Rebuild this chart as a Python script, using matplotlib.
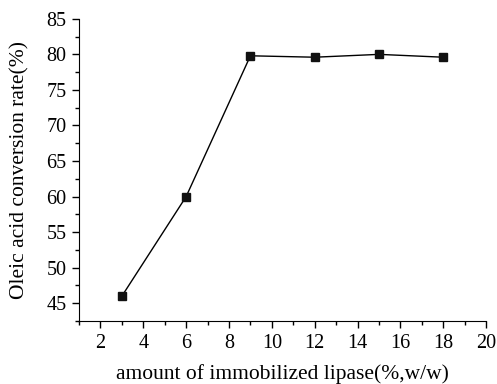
import matplotlib
matplotlib.use('Agg')
import matplotlib.pyplot as plt
from matplotlib.ticker import MultipleLocator

# 데이터
lipase = [3, 6, 9, 12, 15, 18]
conversion = [46.0, 60.0, 79.8, 79.6, 80.0, 79.6]

plt.rcParams['font.family'] = ['Liberation Serif', 'DejaVu Serif']

fig = plt.figure(figsize=(4.97, 3.84), dpi=100)
ax = fig.add_axes([0.159, 0.164, 0.819, 0.787])
ax.plot(lipase, conversion, color='black', linewidth=1, marker='s',
        markersize=6, markerfacecolor='#111111', markeredgecolor='#111111')

ax.set_xlim(1, 20)
ax.set_ylim(42.5, 85)
ax.xaxis.set_minor_locator(MultipleLocator(1))
ax.yaxis.set_minor_locator(MultipleLocator(2.5))
ax.set_yticks(range(45, 86, 5))
ax.set_xticks(range(2, 21, 2))

ax.spines['top'].set_visible(False)
ax.spines['right'].set_visible(False)
ax.tick_params(which='both', direction='out', labelsize=14.5, width=1)
ax.tick_params(which='major', length=5, pad=4)
ax.tick_params(which='minor', length=3)

ax.set_xlabel('amount of immobilized lipase(%,w/w)', fontsize=15.5, labelpad=8)
ax.set_ylabel('Oleic acid conversion rate(%)', fontsize=15.5, labelpad=12)

fig.savefig('out.png', dpi=100)
